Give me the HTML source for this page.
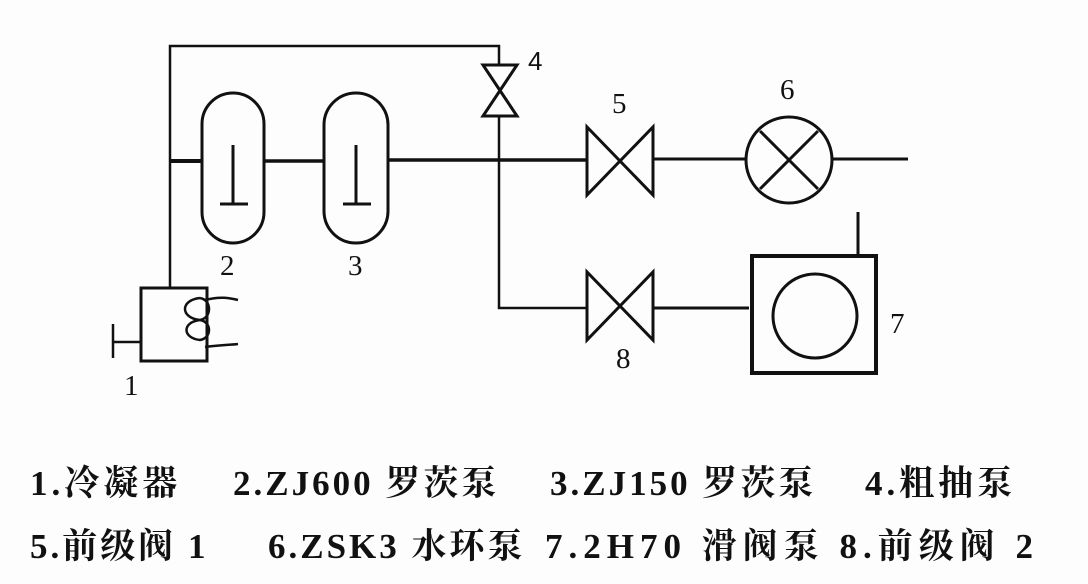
<!DOCTYPE html>
<html><head><meta charset="utf-8"><style>
body{margin:0;background:#fff;}
.w{position:relative;width:1088px;height:584px;overflow:hidden;background:#fdfdfd;}
svg{position:absolute;left:0;top:0;}
.t{position:absolute;font-family:"Liberation Serif","Noto Serif CJK SC",serif;font-size:31px;color:#111;white-space:nowrap;line-height:1;}
.L{font-size:35px;font-weight:bold;letter-spacing:3px;transform-origin:0 0;}
</style></head><body><div class="w">
<svg width="1088" height="584" viewBox="0 0 1088 584" fill="none" stroke="#111" stroke-width="2.5">
<polyline points="170,288 170,46 499,46 499,65"/>
<line x1="170" y1="161" x2="201" y2="161" stroke-width="4"/>
<line x1="264" y1="161" x2="323" y2="161" stroke-width="3.5"/>
<line x1="388" y1="160" x2="587" y2="160" stroke-width="3.5"/>
<rect x="202" y="93" width="62" height="150" rx="31" stroke-width="3"/>
<rect x="324" y="93" width="64" height="150" rx="32" stroke-width="3"/>
<line x1="233" y1="145" x2="233" y2="204" stroke-width="3"/><line x1="220" y1="204" x2="248" y2="204" stroke-width="3"/>
<line x1="356" y1="145" x2="356" y2="204" stroke-width="3"/><line x1="343" y1="204" x2="371" y2="204" stroke-width="3"/>
<polygon points="483,65 517,65 483,116 517,116" stroke-width="3"/>
<polyline points="499,116 499,308 587,308"/>
<polygon points="587,127 587,195 653,127 653,195" stroke-width="3"/>
<polygon points="587,272 587,340 653,272 653,340" stroke-width="3"/>
<line x1="653" y1="159" x2="746" y2="159" stroke-width="3"/>
<circle cx="789" cy="160" r="43" stroke-width="3"/>
<line x1="760" y1="131" x2="818" y2="189" stroke-width="3"/><line x1="818" y1="131" x2="760" y2="189" stroke-width="3"/>
<line x1="832" y1="159" x2="908" y2="159" stroke-width="3"/>
<line x1="653" y1="308" x2="749" y2="308" stroke-width="3"/>
<rect x="752" y="256" width="124" height="117" stroke-width="4"/>
<circle cx="815" cy="316" r="42" stroke-width="3"/>
<line x1="858" y1="212" x2="858" y2="256" stroke-width="3"/>
<rect x="141" y="288" width="66" height="73" stroke-width="3"/>
<line x1="113" y1="342" x2="141" y2="342"/><line x1="113" y1="324" x2="113" y2="358"/>
<path d="M200,298 C180,300 180,318 200,320 C182,322 182,338 200,340 C212,338 212,322 200,320 C212,318 212,300 200,298" stroke-width="2.5"/>
<path d="M205,300 C220,296 230,298 238,300 M205,347 C220,345 230,345 238,344" stroke-width="2.5"/>
</svg>
<div class="t" style="left:528px;top:48px;font-family:'Liberation Sans',sans-serif;font-size:26px">4</div>
<div class="t" style="left:220px;top:252px;font-size:29px">2</div>
<div class="t" style="left:348px;top:252px;font-size:29px">3</div>
<div class="t" style="left:124px;top:372px;font-size:29px">1</div>
<div class="t" style="left:612px;top:90px;font-size:29px">5</div>
<div class="t" style="left:780px;top:76px;font-size:29px">6</div>
<div class="t" style="left:890px;top:310px;font-size:29px">7</div>
<div class="t" style="left:616px;top:345px;font-size:29px">8</div>
<div class="t L" style="left:30px;top:466px;letter-spacing:4px">1.冷凝器</div>
<div class="t L" style="left:233px;top:466px">2.ZJ600 罗茨泵</div>
<div class="t L" style="left:550px;top:466px">3.ZJ150 罗茨泵</div>
<div class="t L" style="left:865px;top:466px;letter-spacing:4px">4.粗抽泵</div>
<div class="t L" style="left:30px;top:529px">5.前级阀 1</div>
<div class="t L" style="left:268px;top:529px">6.ZSK3 水环泵</div>
<div class="t L" style="left:545px;top:529px;letter-spacing:6px">7.2H70 滑阀泵 8.前级阀 2</div>
</div></body></html>
